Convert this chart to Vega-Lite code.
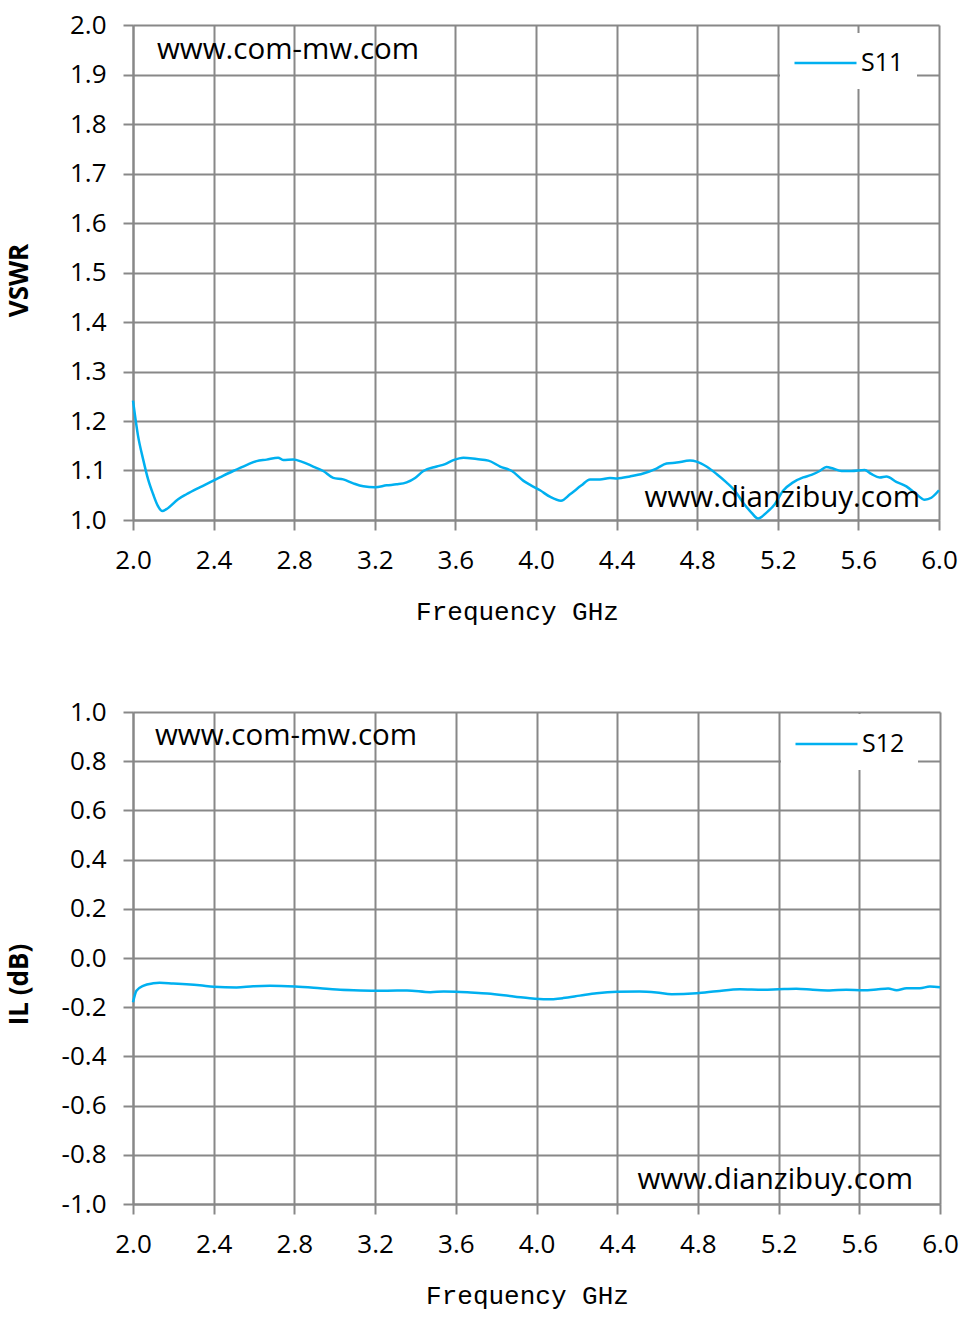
{
  "$schema": "https://vega.github.io/schema/vega-lite/v6.json",
  "background": "white",
  "padding": {"left": 6, "top": 12, "right": 20, "bottom": 5},
  "config": {
    "view": {"stroke": null},
    "axis": {
      "gridColor": "#888888", "gridWidth": 2, "gridOpacity": 1,
      "domainColor": "#888888", "domainWidth": 2,
      "tickColor": "#888888", "tickWidth": 2, "tickSize": 10,
      "labelFont": "Open Sans", "labelFontSize": 26, "labelColor": "#000000",
      "labelPadding": 17, "labelFlush": false
    },
    "axisX": {"titleFont": "Liberation Mono", "titleFontSize": 26, "titleFontWeight": "normal", "titleColor": "#000000", "titlePadding": 25},
    "axisY": {"titleFont": "Open Sans", "titleFontSize": 26, "titleFontWeight": "bold", "titleColor": "#000000"},
    "legend": {"labelFont": "Open Sans", "labelFontSize": 25, "labelColor": "#000000"}
  },
  "datasets": {
    "sparams": [
      {"freq": 2.0, "value": 1.241, "series": "S11"},
      {"freq": 2.025, "value": 1.17, "series": "S11"},
      {"freq": 2.05, "value": 1.123, "series": "S11"},
      {"freq": 2.075, "value": 1.082, "series": "S11"},
      {"freq": 2.1, "value": 1.052, "series": "S11"},
      {"freq": 2.124, "value": 1.028, "series": "S11"},
      {"freq": 2.146, "value": 1.018, "series": "S11"},
      {"freq": 2.166, "value": 1.022, "series": "S11"},
      {"freq": 2.224, "value": 1.042, "series": "S11"},
      {"freq": 2.265, "value": 1.052, "series": "S11"},
      {"freq": 2.331, "value": 1.066, "series": "S11"},
      {"freq": 2.381, "value": 1.076, "series": "S11"},
      {"freq": 2.431, "value": 1.086, "series": "S11"},
      {"freq": 2.497, "value": 1.099, "series": "S11"},
      {"freq": 2.563, "value": 1.111, "series": "S11"},
      {"freq": 2.613, "value": 1.119, "series": "S11"},
      {"freq": 2.663, "value": 1.122, "series": "S11"},
      {"freq": 2.72, "value": 1.126, "series": "S11"},
      {"freq": 2.745, "value": 1.121, "series": "S11"},
      {"freq": 2.795, "value": 1.122, "series": "S11"},
      {"freq": 2.836, "value": 1.118, "series": "S11"},
      {"freq": 2.894, "value": 1.108, "series": "S11"},
      {"freq": 2.944, "value": 1.099, "series": "S11"},
      {"freq": 2.994, "value": 1.085, "series": "S11"},
      {"freq": 3.043, "value": 1.082, "series": "S11"},
      {"freq": 3.093, "value": 1.074, "series": "S11"},
      {"freq": 3.143, "value": 1.068, "series": "S11"},
      {"freq": 3.201, "value": 1.066, "series": "S11"},
      {"freq": 3.259, "value": 1.07, "series": "S11"},
      {"freq": 3.308, "value": 1.072, "series": "S11"},
      {"freq": 3.358, "value": 1.076, "series": "S11"},
      {"freq": 3.4, "value": 1.085, "series": "S11"},
      {"freq": 3.441, "value": 1.099, "series": "S11"},
      {"freq": 3.507, "value": 1.108, "series": "S11"},
      {"freq": 3.549, "value": 1.113, "series": "S11"},
      {"freq": 3.59, "value": 1.121, "series": "S11"},
      {"freq": 3.64, "value": 1.126, "series": "S11"},
      {"freq": 3.706, "value": 1.123, "series": "S11"},
      {"freq": 3.764, "value": 1.12, "series": "S11"},
      {"freq": 3.822, "value": 1.108, "series": "S11"},
      {"freq": 3.88, "value": 1.099, "series": "S11"},
      {"freq": 3.938, "value": 1.079, "series": "S11"},
      {"freq": 3.975, "value": 1.07, "series": "S11"},
      {"freq": 4.02, "value": 1.06, "series": "S11"},
      {"freq": 4.069, "value": 1.047, "series": "S11"},
      {"freq": 4.124, "value": 1.039, "series": "S11"},
      {"freq": 4.169, "value": 1.052, "series": "S11"},
      {"freq": 4.226, "value": 1.07, "series": "S11"},
      {"freq": 4.268, "value": 1.082, "series": "S11"},
      {"freq": 4.317, "value": 1.082, "series": "S11"},
      {"freq": 4.367, "value": 1.085, "series": "S11"},
      {"freq": 4.403, "value": 1.084, "series": "S11"},
      {"freq": 4.466, "value": 1.088, "series": "S11"},
      {"freq": 4.532, "value": 1.094, "series": "S11"},
      {"freq": 4.598, "value": 1.104, "series": "S11"},
      {"freq": 4.648, "value": 1.114, "series": "S11"},
      {"freq": 4.698, "value": 1.116, "series": "S11"},
      {"freq": 4.764, "value": 1.12, "series": "S11"},
      {"freq": 4.797, "value": 1.118, "series": "S11"},
      {"freq": 4.846, "value": 1.108, "series": "S11"},
      {"freq": 4.896, "value": 1.093, "series": "S11"},
      {"freq": 4.945, "value": 1.076, "series": "S11"},
      {"freq": 4.987, "value": 1.059, "series": "S11"},
      {"freq": 5.028, "value": 1.035, "series": "S11"},
      {"freq": 5.069, "value": 1.015, "series": "S11"},
      {"freq": 5.102, "value": 1.003, "series": "S11"},
      {"freq": 5.144, "value": 1.015, "series": "S11"},
      {"freq": 5.185, "value": 1.032, "series": "S11"},
      {"freq": 5.226, "value": 1.059, "series": "S11"},
      {"freq": 5.276, "value": 1.076, "series": "S11"},
      {"freq": 5.326, "value": 1.086, "series": "S11"},
      {"freq": 5.367, "value": 1.091, "series": "S11"},
      {"freq": 5.408, "value": 1.099, "series": "S11"},
      {"freq": 5.441, "value": 1.107, "series": "S11"},
      {"freq": 5.474, "value": 1.104, "series": "S11"},
      {"freq": 5.516, "value": 1.099, "series": "S11"},
      {"freq": 5.565, "value": 1.099, "series": "S11"},
      {"freq": 5.631, "value": 1.101, "series": "S11"},
      {"freq": 5.664, "value": 1.093, "series": "S11"},
      {"freq": 5.706, "value": 1.086, "series": "S11"},
      {"freq": 5.739, "value": 1.088, "series": "S11"},
      {"freq": 5.788, "value": 1.077, "series": "S11"},
      {"freq": 5.838, "value": 1.068, "series": "S11"},
      {"freq": 5.888, "value": 1.052, "series": "S11"},
      {"freq": 5.929, "value": 1.041, "series": "S11"},
      {"freq": 5.962, "value": 1.045, "series": "S11"},
      {"freq": 6.0, "value": 1.06, "series": "S11"},
      {"freq": 2.0, "value": -0.18, "series": "S12"},
      {"freq": 2.017, "value": -0.133, "series": "S12"},
      {"freq": 2.05, "value": -0.113, "series": "S12"},
      {"freq": 2.1, "value": -0.103, "series": "S12"},
      {"freq": 2.132, "value": -0.101, "series": "S12"},
      {"freq": 2.199, "value": -0.104, "series": "S12"},
      {"freq": 2.265, "value": -0.107, "series": "S12"},
      {"freq": 2.331, "value": -0.111, "series": "S12"},
      {"freq": 2.4, "value": -0.117, "series": "S12"},
      {"freq": 2.513, "value": -0.12, "series": "S12"},
      {"freq": 2.596, "value": -0.115, "series": "S12"},
      {"freq": 2.679, "value": -0.113, "series": "S12"},
      {"freq": 2.803, "value": -0.116, "series": "S12"},
      {"freq": 2.928, "value": -0.123, "series": "S12"},
      {"freq": 3.01, "value": -0.128, "series": "S12"},
      {"freq": 3.093, "value": -0.131, "series": "S12"},
      {"freq": 3.206, "value": -0.133, "series": "S12"},
      {"freq": 3.26, "value": -0.133, "series": "S12"},
      {"freq": 3.358, "value": -0.132, "series": "S12"},
      {"freq": 3.474, "value": -0.139, "series": "S12"},
      {"freq": 3.54, "value": -0.136, "series": "S12"},
      {"freq": 3.6, "value": -0.137, "series": "S12"},
      {"freq": 3.673, "value": -0.14, "series": "S12"},
      {"freq": 3.756, "value": -0.144, "series": "S12"},
      {"freq": 3.838, "value": -0.151, "series": "S12"},
      {"freq": 3.921, "value": -0.16, "series": "S12"},
      {"freq": 3.967, "value": -0.164, "series": "S12"},
      {"freq": 4.05, "value": -0.168, "series": "S12"},
      {"freq": 4.132, "value": -0.163, "series": "S12"},
      {"freq": 4.215, "value": -0.153, "series": "S12"},
      {"freq": 4.298, "value": -0.143, "series": "S12"},
      {"freq": 4.4, "value": -0.137, "series": "S12"},
      {"freq": 4.51, "value": -0.136, "series": "S12"},
      {"freq": 4.595, "value": -0.14, "series": "S12"},
      {"freq": 4.67, "value": -0.147, "series": "S12"},
      {"freq": 4.794, "value": -0.143, "series": "S12"},
      {"freq": 4.893, "value": -0.135, "series": "S12"},
      {"freq": 5.008, "value": -0.127, "series": "S12"},
      {"freq": 5.124, "value": -0.129, "series": "S12"},
      {"freq": 5.2, "value": -0.127, "series": "S12"},
      {"freq": 5.288, "value": -0.125, "series": "S12"},
      {"freq": 5.37, "value": -0.129, "series": "S12"},
      {"freq": 5.453, "value": -0.132, "series": "S12"},
      {"freq": 5.536, "value": -0.129, "series": "S12"},
      {"freq": 5.619, "value": -0.131, "series": "S12"},
      {"freq": 5.685, "value": -0.128, "series": "S12"},
      {"freq": 5.743, "value": -0.124, "series": "S12"},
      {"freq": 5.785, "value": -0.131, "series": "S12"},
      {"freq": 5.834, "value": -0.123, "series": "S12"},
      {"freq": 5.9, "value": -0.123, "series": "S12"},
      {"freq": 5.95, "value": -0.116, "series": "S12"},
      {"freq": 6.0, "value": -0.119, "series": "S12"}
    ],
    "marks": [
      {"panel": "VSWR", "freq": 2.119, "value": 1.949, "text": "www.com-mw.com", "side": "left"},
      {"panel": "VSWR", "freq": 5.906, "value": 1.044, "text": "www.dianzibuy.com", "side": "right"},
      {"panel": "IL", "freq": 2.109, "value": 0.902, "text": "www.com-mw.com", "side": "left"},
      {"panel": "IL", "freq": 5.866, "value": -0.902, "text": "www.dianzibuy.com", "side": "right"}
    ]
  },
  "vconcat": [
    {
      "width": 806,
      "height": 495,
      "layer": [
        {
          "data": {"name": "sparams"},
          "transform": [{"filter": "datum.series === 'S11'"}],
          "mark": {"type": "line", "strokeWidth": 2.5, "interpolate": "monotone"},
          "encoding": {
            "x": {"field": "freq", "type": "quantitative", "scale": {"domain": [2, 6], "nice": false},
              "axis": {"values": [2.0, 2.4, 2.8, 3.2, 3.6, 4.0, 4.4, 4.8, 5.2, 5.6, 6.0], "format": ".1f", "title": "Frequency GHz", "titleX": 384}},
            "y": {"field": "value", "type": "quantitative", "scale": {"domain": [1, 2], "nice": false, "zero": false},
              "axis": {"values": [1.0, 1.1, 1.2, 1.3, 1.4, 1.5, 1.6, 1.7, 1.8, 1.9, 2.0], "format": ".1f", "title": "VSWR", "titleX": -101, "titleY": 255}},
            "color": {"field": "series", "type": "nominal", "scale": {"domain": ["S11"], "range": ["#00B0F0"]},
              "legend": {"title": null, "orient": "none", "legendX": 647, "legendY": 8, "fillColor": "white", "padding": 13,
                "symbolType": "M-1,0H3", "symbolSize": 961, "symbolStrokeWidth": 2.5, "labelOffset": 34}}
          }
        },
        {
          "data": {"name": "marks"},
          "transform": [{"filter": "datum.panel === 'VSWR' && datum.side === 'left'"}],
          "mark": {"type": "text", "align": "left", "baseline": "middle", "font": "Open Sans", "fontSize": 29.5, "color": "black"},
          "encoding": {"x": {"field": "freq", "type": "quantitative"}, "y": {"field": "value", "type": "quantitative"}, "text": {"field": "text"}}
        },
        {
          "data": {"name": "marks"},
          "transform": [{"filter": "datum.panel === 'VSWR' && datum.side === 'right'"}],
          "mark": {"type": "text", "align": "right", "baseline": "middle", "font": "Open Sans", "fontSize": 29.5, "color": "black"},
          "encoding": {"x": {"field": "freq", "type": "quantitative"}, "y": {"field": "value", "type": "quantitative"}, "text": {"field": "text"}}
        }
      ]
    },
    {
      "width": 807,
      "height": 492,
      "layer": [
        {
          "data": {"name": "sparams"},
          "transform": [{"filter": "datum.series === 'S12'"}],
          "mark": {"type": "line", "strokeWidth": 2.5, "interpolate": "monotone"},
          "encoding": {
            "x": {"field": "freq", "type": "quantitative", "scale": {"domain": [2, 6], "nice": false},
              "axis": {"values": [2.0, 2.4, 2.8, 3.2, 3.6, 4.0, 4.4, 4.8, 5.2, 5.6, 6.0], "format": ".1f", "title": "Frequency GHz", "titleX": 394}},
            "y": {"field": "value", "type": "quantitative", "scale": {"domain": [-1, 1], "nice": false, "zero": false},
              "axis": {"values": [-1.0, -0.8, -0.6, -0.4, -0.2, 0.0, 0.2, 0.4, 0.6, 0.8, 1.0], "format": ".1f", "labelExpr": "replace(datum.label, '\u2212', '-')", "title": "IL (dB)", "titleX": -101, "titleY": 272}},
            "color": {"field": "series", "type": "nominal", "scale": {"domain": ["S12"], "range": ["#00B0F0"]},
              "legend": {"title": null, "orient": "none", "legendX": 648, "legendY": 2, "fillColor": "white", "padding": 13,
                "symbolType": "M-1,0H3", "symbolSize": 961, "symbolStrokeWidth": 2.5, "labelOffset": 34}}
          }
        },
        {
          "data": {"name": "marks"},
          "transform": [{"filter": "datum.panel === 'IL' && datum.side === 'left'"}],
          "mark": {"type": "text", "align": "left", "baseline": "middle", "font": "Open Sans", "fontSize": 29.5, "color": "black"},
          "encoding": {"x": {"field": "freq", "type": "quantitative"}, "y": {"field": "value", "type": "quantitative"}, "text": {"field": "text"}}
        },
        {
          "data": {"name": "marks"},
          "transform": [{"filter": "datum.panel === 'IL' && datum.side === 'right'"}],
          "mark": {"type": "text", "align": "right", "baseline": "middle", "font": "Open Sans", "fontSize": 29.5, "color": "black"},
          "encoding": {"x": {"field": "freq", "type": "quantitative"}, "y": {"field": "value", "type": "quantitative"}, "text": {"field": "text"}}
        }
      ]
    }
  ],
  "spacing": 75,
  "resolve": {"scale": {"color": "independent"}, "legend": {"color": "independent"}}
}
